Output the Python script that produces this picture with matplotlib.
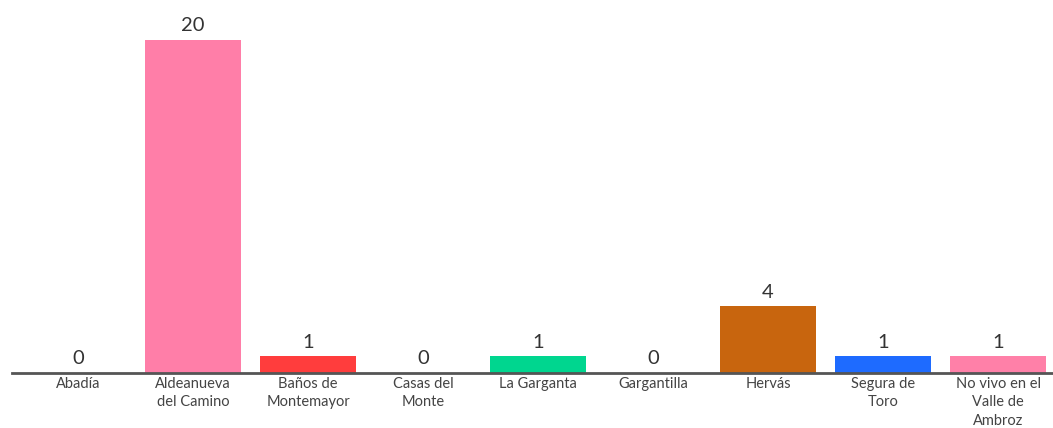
import matplotlib.pyplot as plt

# 数据
categories = [
    "Abadía",
    "Aldeanueva\ndel Camino",
    "Baños de\nMontemayor",
    "Casas del\nMonte",
    "La Garganta",
    "Gargantilla",
    "Hervás",
    "Segura de\nToro",
    "No vivo en el\nValle de\nAmbroz",
]
values = [0, 20, 1, 0, 1, 0, 4, 1, 1]
colors = ["#FF7EA8", "#FF7EA8", "#FF3D3D", "#FF7EA8", "#00D68F",
          "#FF7EA8", "#C8650E", "#1E6BFF", "#FF80A8"]

plt.rcParams["font.family"] = ["Lato", "DejaVu Sans"]

fig = plt.figure(figsize=(10.53, 4.28), dpi=100)
ax = fig.add_axes([12 / 1053, 55 / 428, 1 - 12 / 1053, 1 - 55 / 428])

x = list(range(len(values)))
bars = ax.bar(x, values, width=0.84, color=colors)

for xi, v in zip(x, values):
    ax.text(xi, v + 0.35, str(v), ha="center", va="bottom",
            fontsize=14.5, color="#333333")

ax.set_xlim(-0.574, 8.478)
ax.set_ylim(0, 22.4)

ax.set_xticks(x)
ax.set_xticklabels(categories, fontsize=10.5, color="#444444", linespacing=1.38)
ax.tick_params(axis="x", length=0, pad=3)
ax.set_yticks([])

for s in ["top", "right", "left"]:
    ax.spines[s].set_visible(False)
ax.spines["bottom"].set_color("#555555")
ax.spines["bottom"].set_linewidth(2)

fig.savefig("out.png", dpi=100)
